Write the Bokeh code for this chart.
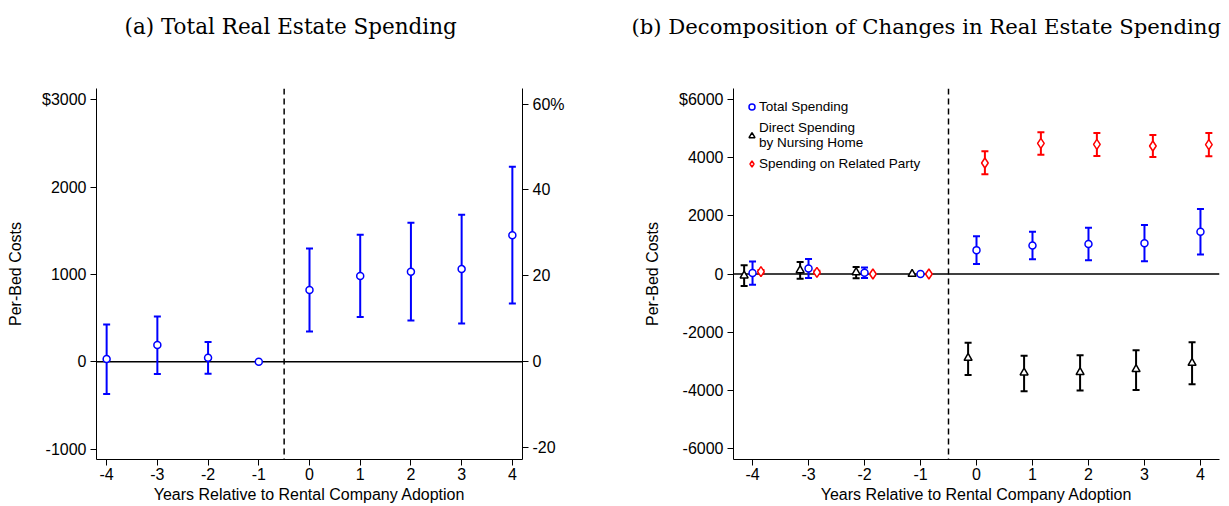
from bokeh.plotting import figure
from bokeh.layouts import row
from bokeh.models import (ColumnDataSource, Range1d, LinearAxis, FixedTicker, Span,
                          Title, Legend, LegendItem)
from bokeh.transform import dodge
from bokeh.embed import file_html
from bokeh.resources import INLINE

NAN = float("nan")

# event time
years = [-4, -3, -2, -1, 0, 1, 2, 3, 4]

# total real estate spending per bed (point estimate and 95% CI)
total_est = [31, 191, 46, 0, 821, 981, 1031, 1061, 1450]
total_lo = [-370, -141, -137, NAN, 347, 511, 473, 439, 668]
total_hi = [427, 519, 225, NAN, 1298, 1454, 1592, 1683, 2233]

# direct spending by nursing home
direct_est = [-57, 126, 57, 0, -2888, -3393, -3381, -3278, -3060]
direct_lo = [-413, -160, -149, NAN, -3473, -4034, -4011, -3989, -3794]
direct_hi = [298, 413, 241, NAN, -2361, -2808, -2796, -2625, -2350]

# spending on related party
related_est = [80, 57, 0, 0, 3817, 4493, 4459, 4401, 4447]
related_lo = [20, 0, NAN, NAN, 3427, 4103, 4057, 4023, 4046]
related_hi = [140, 115, NAN, NAN, 4218, 4871, 4848, 4779, 4848]

left_ticks = [-1000, 0, 1000, 2000, 3000]
pct_ticks = [-20, 0, 20, 40, 60]
right_ticks = [-6000, -4000, -2000, 0, 2000, 4000, 6000]

# dollars that correspond to 20 percentage points on the right axis
PCT_SCALE = 20.0 / 984.0

BLUE = "#0000ff"
RED = "#ff0000"
BLACK = "#000000"
FONT = "Liberation Sans"
TITLE_FONT = "DejaVu Serif"
FRAME_H = 371


def plain_labels(ticks, top=None):
    # hyphen minus like the original, not the unicode minus bokeh uses
    labels = {t: str(t) for t in ticks}
    if top is not None:
        labels[ticks[-1]] = top
    return labels


def style_axis(ax):
    ax.major_tick_in = 0
    ax.major_tick_out = 6
    ax.minor_tick_out = 0
    ax.minor_tick_in = 0
    ax.axis_line_color = BLACK
    ax.major_tick_line_color = BLACK
    ax.major_label_text_font = FONT
    ax.major_label_text_font_size = "16px"
    ax.major_label_text_color = BLACK
    ax.axis_label_text_font = FONT
    ax.axis_label_text_font_size = "16px"
    ax.axis_label_text_font_style = "normal"
    ax.axis_label_text_color = BLACK


def make_fig(width, x_rng, y_rng, border_left, border_right, yticks, ylabel_top,
             title, title_dx, title_size):
    p = figure(width=width, height=506, x_range=x_rng, y_range=y_rng,
               output_backend="svg", toolbar_location=None, tools="",
               min_border_left=border_left, min_border_right=border_right,
               min_border_top=88, min_border_bottom=506 - 88 - FRAME_H)
    p.grid.visible = False
    p.outline_line_color = None
    p.background_fill_color = "white"
    p.border_fill_color = "white"

    # sub-caption, kept clear of the frame by a blank spacer panel
    p.title.text = title
    p.title.align = "left"
    p.title.offset = title_dx
    p.title.standoff = 0
    p.title.text_font = TITLE_FONT
    p.title.text_font_size = title_size
    p.title.text_font_style = "normal"
    p.title.text_color = BLACK
    p.add_layout(Title(text=" ", standoff=0, text_font=TITLE_FONT,
                       text_font_size="41px"), "above")

    p.xaxis.ticker = FixedTicker(ticks=years)
    p.xaxis.major_label_overrides = plain_labels(years)
    p.xaxis.axis_label = "Years Relative to Rental Company Adoption"
    p.xaxis.major_label_standoff = 2
    p.xaxis.axis_label_standoff = 3

    p.yaxis.ticker = FixedTicker(ticks=yticks)
    p.yaxis.major_label_overrides = plain_labels(yticks, ylabel_top)
    p.yaxis.axis_label = "Per-Bed Costs"
    p.yaxis.major_label_standoff = 4
    p.yaxis.axis_label_standoff = 15
    for ax in p.axis:
        style_axis(ax)

    p.add_layout(Span(location=0, dimension="width", line_color=BLACK,
                      line_width=1.6, level="underlay"))
    p.add_layout(Span(location=-0.5, dimension="height", line_color=BLACK,
                      line_width=1.5, line_dash="6 4", level="underlay"))
    return p


def add_series(p, est, lo, hi, color, marker, size, shift=0.0):
    src = ColumnDataSource(dict(x=years, est=est, lo=lo, hi=hi))
    xs = dodge("x", shift, range=p.x_range)
    p.segment(x0=xs, y0="lo", x1=xs, y1="hi", source=src,
              line_color=color, line_width=2)
    for col in ("lo", "hi"):
        p.scatter(x=xs, y=col, marker="dash", size=7, source=src,
                  line_color=color, line_width=2)
    return p.scatter(x=xs, y="est", marker=marker, size=size, source=src,
                     line_color=color, fill_color="white", line_width=1.5)


# (a) total spending with a percent axis on the right
p1 = make_fig(620, Range1d(-4.2, 4.2), Range1d(-1120, 3130), 96, 98,
              left_ticks, "$3000", "(a) Total Real Estate Spending", 28, "21.5px")
p1.extra_y_ranges = {"pct": Range1d(-1120 * PCT_SCALE, 3130 * PCT_SCALE)}
pct_axis = LinearAxis(y_range_name="pct", ticker=FixedTicker(ticks=pct_ticks),
                      major_label_overrides=plain_labels(pct_ticks, "60%"),
                      major_label_standoff=4)
style_axis(pct_axis)
p1.add_layout(pct_axis, "right")
add_series(p1, total_est, total_lo, total_hi, BLUE, "circle", 7)

# (b) decomposition
p2 = make_fig(609, Range1d(-4.34, 4.34), Range1d(-6380, 6380), 113, 10,
              right_ticks, "$6000",
              "(b) Decomposition of Changes in Real Estate Spending", -102, "21.2px")
r_total = add_series(p2, total_est, total_lo, total_hi, BLUE, "circle", 7)
r_direct = add_series(p2, direct_est, direct_lo, direct_hi, BLACK, "triangle", 8, -0.15)
r_related = add_series(p2, related_est, related_lo, related_hi, RED, "diamond", 10, 0.15)

legend = Legend(items=[
    LegendItem(label="Total Spending", renderers=[r_total]),
    LegendItem(label="Direct Spending\nby Nursing Home", renderers=[r_direct]),
    LegendItem(label="Spending on Related Party", renderers=[r_related]),
], location="top_left", border_line_color=None, background_fill_alpha=0,
    label_text_font=FONT, label_text_font_size="13.5px", label_text_color=BLACK,
    glyph_width=15, glyph_height=15, label_height=14, spacing=6,
    padding=0, margin=11, label_standoff=0)
p2.add_layout(legend)

layout = row(p1, p2)
open("out.html", "w").write(file_html(layout, INLINE))
